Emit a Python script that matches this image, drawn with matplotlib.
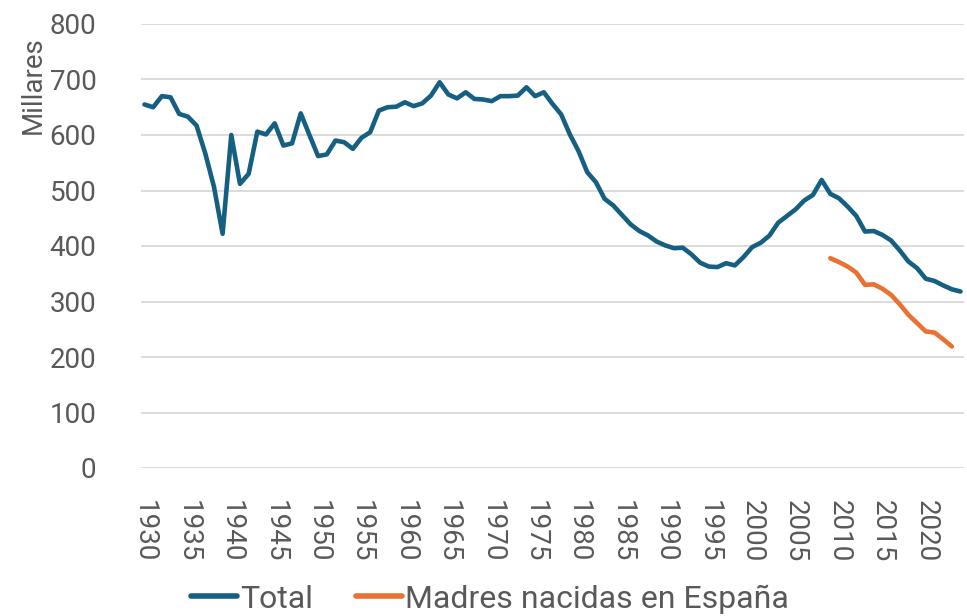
import matplotlib
import numpy as np

matplotlib.use("Agg")
import matplotlib.pyplot as plt

years = np.arange(1930, 2025)
total = [
    655, 650, 670, 668, 638, 633, 617, 567, 507, 422,
    600, 512, 530, 606, 601, 621, 581, 585, 639, 600,
    562, 565, 590, 587, 575, 595, 605, 644, 650, 651,
    659, 652, 657, 671, 695, 673, 666, 677, 665, 664,
    661, 670, 670, 671, 686, 670, 677, 656, 637, 601,
    571, 533, 515, 485, 473, 456, 439, 427, 419, 408,
    401, 396, 397, 385, 370, 363, 362, 369, 365, 380,
    398, 406, 419, 442, 454, 466, 482, 492, 519, 494,
    486, 471, 454, 426, 427, 420, 410, 392, 372, 360,
    341, 337, 329, 322, 318,
]
years_esp = np.arange(2009, 2024)
madres_esp = [378, 371, 363, 352, 330, 331, 323, 312, 295, 276, 261, 246, 244, 232, 219]

x_ticks = np.arange(1930, 2021, 5)
y_ticks = np.arange(0, 801, 100)

BLUE = "#156082"
ORANGE = "#E97132"
GREY = "#595959"


def build_plot():
    fig = plt.figure(figsize=(9.67, 6.16), dpi=100)
    ax = fig.add_axes([141 / 967, 148 / 616, 823 / 967, 444 / 616])

    ax.plot(years, total, color=BLUE, linewidth=3.3, solid_capstyle="round",
            solid_joinstyle="round", label="Total")
    ax.plot(years_esp, madres_esp, color=ORANGE, linewidth=3.3,
            solid_capstyle="round", solid_joinstyle="round",
            label="Madres nacidas en España")

    ax.set_xlim(1929.6, 2024.4)
    ax.set_ylim(0, 800)
    ax.set_yticks(y_ticks)
    ax.set_xticks(x_ticks)
    ax.set_xticklabels([str(y) for y in x_ticks], rotation=270,
                       ha="center", va="top")
    ax.tick_params(axis="y", length=0, pad=32, labelsize=20, labelcolor=GREY)
    ax.tick_params(axis="x", length=0, pad=23, labelsize=20, labelcolor=GREY)
    for lbl in ax.get_xticklabels() + ax.get_yticklabels():
        lbl.set_fontfamily("Roboto")

    ax.grid(axis="y", color="#D9D9D9", linewidth=1.3)
    ax.set_axisbelow(True)
    for s in ax.spines.values():
        s.set_visible(False)

    fig.text(33 / 967, 1 - 85 / 616, "Millares", rotation=90, ha="center",
             va="center", fontsize=20, color=GREY, family="Roboto")

    leg = fig.legend(loc="center", bbox_to_anchor=(490 / 967, 1 - 599 / 616),
                     ncol=2, frameon=False, handlelength=1.45,
                     columnspacing=1.35, handletextpad=0.08,
                     prop={"family": "Roboto", "size": 23})
    for t in leg.get_texts():
        t.set_color(GREY)
    for h in leg.legend_handles:
        h.set_linewidth(4)
        h.set_solid_capstyle("round")
    return fig, ax


def main() -> None:
    fig, _ = build_plot()
    fig.savefig("out.png", dpi=100)


if __name__ == "__main__":
    main()
